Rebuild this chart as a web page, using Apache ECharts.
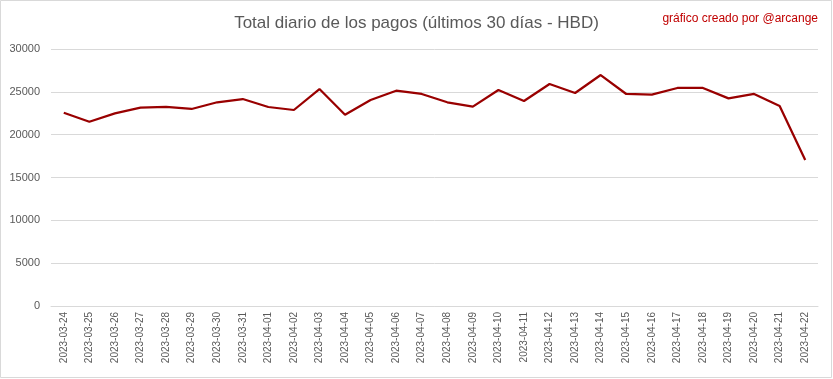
<!DOCTYPE html>
<html><head><meta charset="utf-8">
<script src="https://cdn.jsdelivr.net/npm/echarts@6/dist/echarts.min.js"></script>
<style>html,body{margin:0;padding:0;background:#fff}#c{width:833px;height:379px}</style>
</head><body><div id="c"></div>
<script>
const categories = ["2023-03-24","2023-03-25","2023-03-26","2023-03-27","2023-03-28","2023-03-29","2023-03-30","2023-03-31","2023-04-01","2023-04-02","2023-04-03","2023-04-04","2023-04-05","2023-04-06","2023-04-07","2023-04-08","2023-04-09","2023-04-10","2023-04-11","2023-04-12","2023-04-13","2023-04-14","2023-04-15","2023-04-16","2023-04-17","2023-04-18","2023-04-19","2023-04-20","2023-04-21","2023-04-22"];
const values = [22560,21510,22490,23150,23230,23000,23780,24160,23230,22880,25330,22330,24050,25130,24750,23780,23270,25210,23930,25910,24860,26960,24750,24670,25450,25450,24240,24750,23350,17040];
const titleText = "Total diario de los pagos (últimos 30 días - HBD)";
const creditText = "gráfico creado por @arcange";

const chart = echarts.init(document.getElementById('c'), null, {renderer:'canvas'});
chart.setOption({
  animation:false,
  backgroundColor:'#ffffff',
  title:[{
    text:titleText, left:'center', top:10,
    textStyle:{fontFamily:'Liberation Sans', fontSize:17, fontWeight:'normal', color:'#595959'}
  },{
    text:creditText, right:10, top:8,
    textStyle:{fontFamily:'Liberation Sans', fontSize:12, fontWeight:'normal', color:'#c00000'}
  }],
  graphic:[{type:'rect', shape:{x:0.5,y:0.5,width:831,height:377}, style:{fill:null, stroke:'#d9d9d9', lineWidth:1}, silent:true}],
  grid:{left:51, right:15, top:49, bottom:73},
  xAxis:{
    type:'category', data:categories, boundaryGap:true,
    axisLine:{show:true, lineStyle:{color:'#d9d9d9'}},
    axisTick:{show:false},
    axisLabel:{rotate:90, interval:0, color:'#595959', fontFamily:'Liberation Sans', fontSize:10, margin:6}
  },
  yAxis:{
    type:'value', min:0, max:30000, interval:5000,
    axisLine:{show:false}, axisTick:{show:false},
    splitLine:{lineStyle:{color:'#d9d9d9', width:1}},
    axisLabel:{color:'#595959', fontFamily:'Liberation Sans', fontSize:11, margin:11, formatter:function(v){return String(v);}}
  },
  series:[{
    type:'line', data:values, showSymbol:false, symbol:'none',
    lineStyle:{color:'#990000', width:2.25}
  }]
});
</script></body></html>
